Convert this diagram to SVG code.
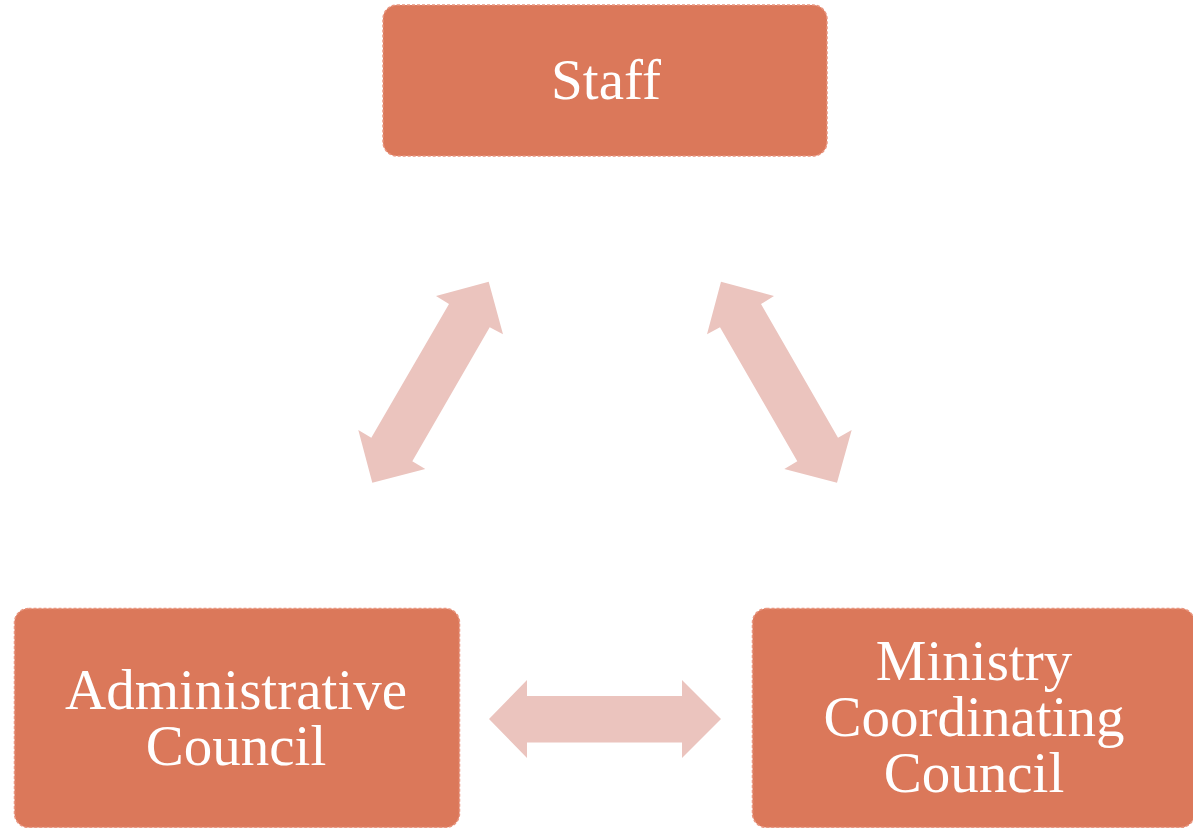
<svg xmlns="http://www.w3.org/2000/svg" width="1193" height="828" viewBox="0 0 1193 828">
<style>
.box{fill:#DB785A;stroke:#E9957F;stroke-width:1.5;stroke-dasharray:3 2}
.lbl{font-family:"Liberation Serif","DejaVu Serif",serif;font-size:57px;fill:#FFFFFF;text-anchor:middle}
.arr{fill:#EBC4BE}
</style>
<rect width="1193" height="828" fill="#FFFFFF"/>
<g id="connectors">
<polygon class="arr" points="488.7,281.7 503,334.3 489.7,327.3 412.3,461.3 425.3,469 372.3,482.7 358.3,430 371.3,437.7 449,304 436,296"/>
<polygon class="arr" points="721,281.7 707,334.3 720,327.3 797.3,461.3 784.3,469 837,482.7 851.7,430 838,437.7 761,304 774,296"/>
<polygon class="arr" points="489,719 527,680 527,696 682,696 682,680 721,719 682,758 682,742.5 527,742.5 527,758"/>
</g>
<g id="staff">
<rect class="box" x="383" y="5" width="444" height="151" rx="14"/>
<text class="lbl" x="606" y="99">Staff</text>
</g>
<g id="administrative-council">
<rect class="box" x="14.5" y="608.5" width="445" height="219" rx="14"/>
<text class="lbl" x="236" y="709">Administrative</text>
<text class="lbl" x="236" y="765">Council</text>
</g>
<g id="ministry-coordinating-council">
<rect class="box" x="752.5" y="608.5" width="442" height="219" rx="14"/>
<text class="lbl" x="974" y="680">Ministry</text>
<text class="lbl" x="974" y="736">Coordinating</text>
<text class="lbl" x="974" y="792">Council</text>
</g>
</svg>
